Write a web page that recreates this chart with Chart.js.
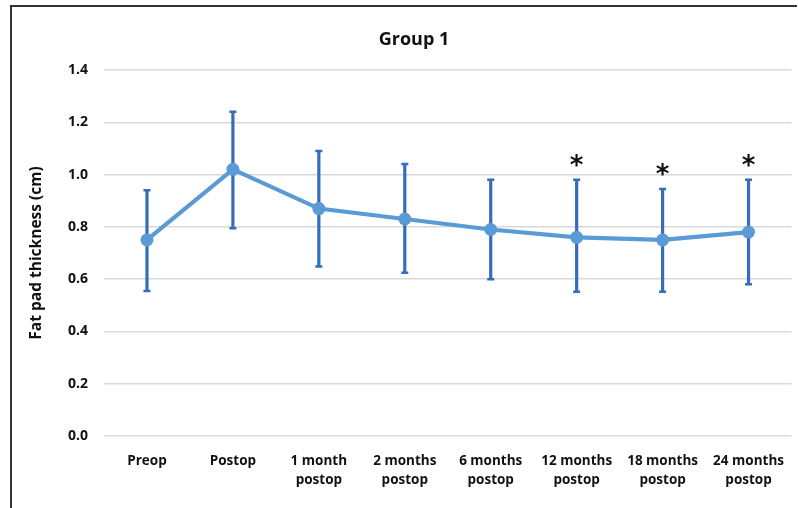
<!DOCTYPE html>
<html>
<head>
<meta charset="utf-8">
<script src="https://cdn.jsdelivr.net/npm/chart.js@4"></script>
<style>
  html, body { margin: 0; padding: 0; background: #ffffff; }
  #wrap { width: 798px; height: 508px; position: relative; }
</style>
</head>
<body>
<div id="wrap"><canvas id="chart" width="798" height="508"></canvas></div>
<script>
// Fat pad thickness over follow-up, group 1 (mean with upper/lower error)
const categories = [
  ['Preop'], ['Postop'], ['1 month', 'postop'], ['2 months', 'postop'],
  ['6 months', 'postop'], ['12 months', 'postop'], ['18 months', 'postop'], ['24 months', 'postop']
];
const meanValues = [0.75, 1.02, 0.87, 0.83, 0.79, 0.76, 0.75, 0.78];
const errorHigh  = [0.94, 1.24, 1.09, 1.04, 0.98, 0.98, 0.945, 0.98];
const errorLow   = [0.555, 0.795, 0.648, 0.624, 0.60, 0.552, 0.552, 0.58];
const significance = ['', '', '', '', '', '*', '*', '*'];
const yTicks = [0, 0.2, 0.4, 0.6, 0.8, 1.0, 1.2, 1.4];
const chartTitle = 'Group 1';

const FONT = '"Open Sans", "Noto Sans", sans-serif';

// Vertical error bars with caps, drawn under the line and markers
const errorBars = {
  id: 'errorBars',
  beforeDatasetsDraw(chart) {
    const { ctx, scales: { x, y } } = chart;
    ctx.save();
    ctx.strokeStyle = '#356cbd';
    ctx.lineCap = 'butt';
    meanValues.forEach((v, i) => {
      const px = x.getPixelForValue(i);
      const top = y.getPixelForValue(errorHigh[i]);
      const bot = y.getPixelForValue(errorLow[i]);
      ctx.lineWidth = 3.2;
      ctx.beginPath();
      ctx.moveTo(px, top);
      ctx.lineTo(px, bot);
      ctx.stroke();
      ctx.lineWidth = 2.5;
      ctx.beginPath();
      ctx.moveTo(px - 3.5, top); ctx.lineTo(px + 3.5, top);
      ctx.moveTo(px - 3.5, bot); ctx.lineTo(px + 3.5, bot);
      ctx.stroke();
    });
    ctx.restore();
  },
  afterDatasetsDraw(chart) {
    const { ctx, scales: { x, y } } = chart;
    ctx.save();
    ctx.fillStyle = '#111111';
    ctx.font = 'bold 26px "DejaVu Sans", sans-serif';
    ctx.textAlign = 'center';
    ctx.textBaseline = 'middle';
    significance.forEach((s, i) => {
      if (!s) return;
      const px = x.getPixelForValue(i);
      const py = y.getPixelForValue(errorHigh[i]) - 13;
      ctx.fillText(s, px, py);
    });
    ctx.restore();
  }
};

// Chart heading and the dark frame along the top and left edges
const heading = {
  id: 'heading',
  afterDraw(chart) {
    const { ctx } = chart;
    ctx.save();
    ctx.fillStyle = '#111111';
    ctx.font = 'bold 18px ' + FONT;
    ctx.textAlign = 'center';
    ctx.textBaseline = 'alphabetic';
    ctx.fillText(chartTitle, 414, 45);
    ctx.strokeStyle = '#333333';
    ctx.lineWidth = 2;
    ctx.beginPath();
    ctx.moveTo(11, 508);
    ctx.lineTo(11, 6);
    ctx.lineTo(797, 6);
    ctx.stroke();
    ctx.restore();
  }
};

new Chart(document.getElementById('chart'), {
  type: 'line',
  data: {
    labels: categories,
    datasets: [{
      data: meanValues,
      borderColor: '#5b9bd5',
      backgroundColor: '#5b9bd5',
      borderWidth: 4.2,
      pointRadius: 6.5,
      pointHoverRadius: 6.5,
      pointBorderWidth: 0,
      tension: 0
    }]
  },
  options: {
    responsive: false,
    animation: false,
    layout: { padding: { left: 0, right: 4, top: 70, bottom: 0 } },
    plugins: {
      legend: { display: false },
      tooltip: { enabled: false },
      title: { display: false }
    },
    scales: {
      x: {
        offset: true,
        grid: { display: false },
        border: { display: false },
        ticks: {
          color: '#111111',
          font: { family: FONT, size: 13.5, weight: 'bold', lineHeight: 1.4 },
          padding: 8,
          maxRotation: 0,
          autoSkip: false
        },
        afterFit(scale) { scale.height = 72; }
      },
      y: {
        min: 0,
        max: 1.4,
        afterBuildTicks(scale) { scale.ticks = yTicks.map(v => ({ value: v })); },
        grid: { color: '#d9d9d9', lineWidth: 1.5, drawTicks: false },
        border: { display: false },
        ticks: {
          color: '#111111',
          font: { family: FONT, size: 14, weight: 'bold' },
          padding: 16,
          callback: v => Number(v).toFixed(1)
        },
        title: {
          display: true,
          text: 'Fat pad thickness (cm)',
          color: '#111111',
          font: { family: FONT, size: 15.5, weight: 'bold' },
          padding: { top: 27 }
        },
        afterFit(scale) { scale.width = 104; }
      }
    }
  },
  plugins: [errorBars, heading]
});
</script>
</body>
</html>
